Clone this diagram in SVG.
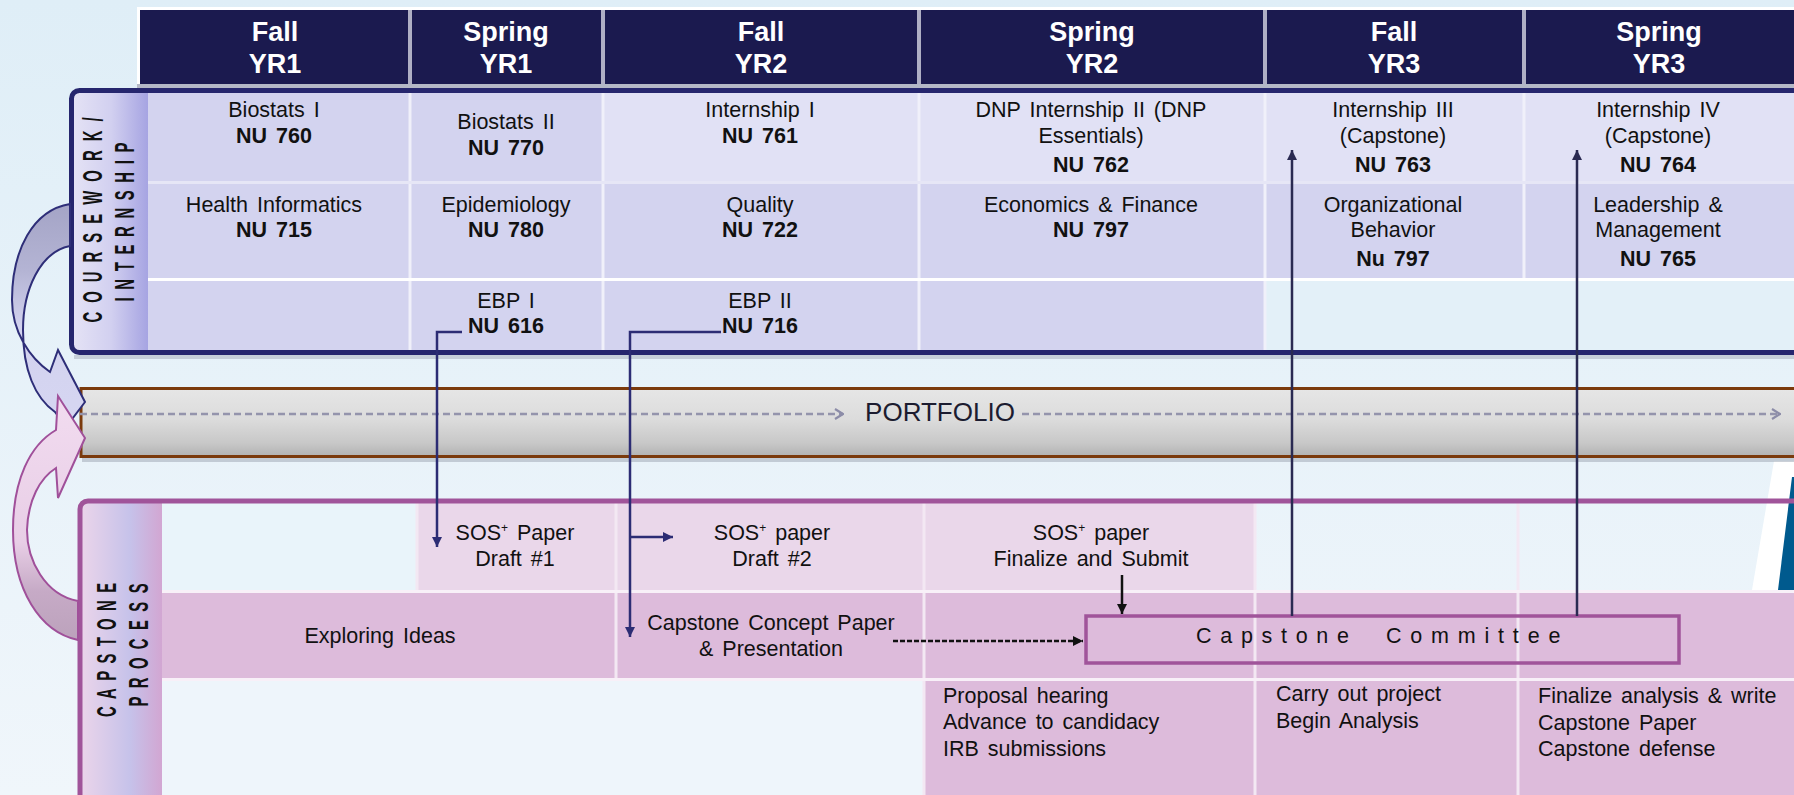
<svg xmlns="http://www.w3.org/2000/svg" width="1794" height="795" viewBox="0 0 1794 795">
<defs>
<linearGradient id="bg" x1="0" y1="0" x2="0" y2="1"><stop offset="0" stop-color="#DFEEF7"/><stop offset="1" stop-color="#F0F6FB"/></linearGradient>
<linearGradient id="cwLab" x1="0" y1="0" x2="1" y2="0"><stop offset="0" stop-color="#E4E2F5"/><stop offset="0.5" stop-color="#D2D0F0"/><stop offset="1" stop-color="#A6A4E2"/></linearGradient>
<linearGradient id="capLab" x1="0" y1="0" x2="1" y2="0"><stop offset="0" stop-color="#EAD4EA"/><stop offset="0.6" stop-color="#C6C2EA"/><stop offset="1" stop-color="#D2A6D2"/></linearGradient>
<linearGradient id="port" x1="0" y1="0" x2="0" y2="1"><stop offset="0" stop-color="#E6E6E6"/><stop offset="0.45" stop-color="#DCDCDC"/><stop offset="0.8" stop-color="#C8C8C8"/><stop offset="1" stop-color="#B2B2B2"/></linearGradient>
<linearGradient id="blueArr" x1="0" y1="0" x2="0" y2="1"><stop offset="0" stop-color="#A4A4C6"/><stop offset="0.3" stop-color="#B4B4D4"/><stop offset="0.55" stop-color="#D2D2EE"/><stop offset="1" stop-color="#D6D6F2"/></linearGradient>
<linearGradient id="pinkArr" x1="0" y1="0" x2="0" y2="1"><stop offset="0" stop-color="#F2DCF0"/><stop offset="0.6" stop-color="#E8CEE6"/><stop offset="0.8" stop-color="#C6AAC6"/><stop offset="1" stop-color="#BCA2BC"/></linearGradient>
<marker id="ahNavy" viewBox="0 0 10 10" refX="10" refY="5" markerWidth="11" markerHeight="10" markerUnits="userSpaceOnUse" orient="auto"><path d="M0,0 L10,5 L0,10 z" fill="#2C2C74"/></marker>
<marker id="ahDark" viewBox="0 0 10 10" refX="10" refY="5" markerWidth="11" markerHeight="10" markerUnits="userSpaceOnUse" orient="auto"><path d="M0,0 L10,5 L0,10 z" fill="#2A2A52"/></marker>
<marker id="ahBlack" viewBox="0 0 10 10" refX="10" refY="5" markerWidth="11" markerHeight="10" markerUnits="userSpaceOnUse" orient="auto"><path d="M0,0 L10,5 L0,10 z" fill="#111111"/></marker>
<marker id="chev" viewBox="0 0 10 12" refX="9" refY="6" markerWidth="10" markerHeight="12" markerUnits="userSpaceOnUse" orient="auto"><path d="M1,1 L9,6 L1,11" fill="none" stroke="#8C8CA8" stroke-width="2.2"/></marker>
</defs>
<style>
text{font-family:'Liberation Sans',Arial,sans-serif}
.hdr{font-size:27px;font-weight:bold;fill:#FFFFFF;text-anchor:middle}
.t{font-size:21.5px;fill:#111111;text-anchor:middle;word-spacing:3px}
.l{text-anchor:start}
.b{font-weight:bold}
.lab{font-size:27px;font-weight:bold;fill:#111111;text-anchor:middle}
.hc{fill:#1B1A4F}
.cw1{fill:#D3D3EF}
.cw2{fill:#E1E1F5}
.pk1{fill:#EAD7EA}
.pk2{fill:#DDBBDB}
.sup{font-size:12px}
.conn{fill:none;stroke:#2C2C74;stroke-width:2.5}
.vl{stroke:#F0F0FA;stroke-width:3}
.pl{stroke:#F3E8F3;stroke-width:3}
</style>

<rect x="0" y="0" width="1794" height="795" fill="url(#bg)"/>

<!-- right edge sliver -->
<g id="edge-sliver">
<polygon points="1752,590 1774,461 1794,461 1794,590" fill="#FFFFFF"/>
<polygon points="1778,590 1792,477 1794,477 1794,590" fill="#005A8E"/>
</g>

<!-- header -->
<g id="header">
<rect x="137" y="7" width="1660" height="79" fill="#FFFFFF"/>
<rect x="140" y="10" width="1660" height="74" fill="#AFAFC4"/>
<rect x="137" y="84" width="1660" height="4" fill="#B4B8C6"/>
<g id="hdr-fall-yr1"><rect class="hc" x="140" y="10" width="268" height="74"/><text class="hdr" x="275" y="41">Fall</text><text class="hdr" x="275" y="73">YR1</text></g>
<g id="hdr-spring-yr1"><rect class="hc" x="412" y="10" width="189" height="74"/><text class="hdr" x="506" y="41">Spring</text><text class="hdr" x="506" y="73">YR1</text></g>
<g id="hdr-fall-yr2"><rect class="hc" x="605" y="10" width="312" height="74"/><text class="hdr" x="761" y="41">Fall</text><text class="hdr" x="761" y="73">YR2</text></g>
<g id="hdr-spring-yr2"><rect class="hc" x="921" y="10" width="342" height="74"/><text class="hdr" x="1092" y="41">Spring</text><text class="hdr" x="1092" y="73">YR2</text></g>
<g id="hdr-fall-yr3"><rect class="hc" x="1267" y="10" width="255" height="74"/><text class="hdr" x="1394" y="41">Fall</text><text class="hdr" x="1394" y="73">YR3</text></g>
<g id="hdr-spring-yr3"><rect class="hc" x="1526" y="10" width="274" height="74"/><text class="hdr" x="1659" y="41">Spring</text><text class="hdr" x="1659" y="73">YR3</text></g>
</g>

<!-- coursework / internship -->
<g id="coursework">
<rect x="74" y="355" width="1730" height="4" fill="#B8C0CC" opacity="0.7"/>
<rect x="71.5" y="90.5" width="1740" height="262" rx="8" fill="#D3D3EF"/>
<rect x="74" y="93" width="74" height="257" fill="url(#cwLab)"/>
<text class="lab" transform="translate(92,220) rotate(-90) scale(0.55,1)" y="9.7" textLength="373" lengthAdjust="spacing">COURSEWORK/</text>
<text class="lab" transform="translate(124,222) rotate(-90) scale(0.55,1)" y="9.7" textLength="289" lengthAdjust="spacing">INTERNSHIP</text>
</g>
<g id="cw-biostats1"><rect class="cw1" x="148" y="92" width="262" height="90"/><text class="t" x="274" y="117">Biostats I</text><text class="t b" x="274" y="143">NU 760</text></g>
<g id="cw-biostats2"><rect class="cw1" x="410" y="92" width="193" height="90"/><text class="t" x="506" y="129">Biostats II</text><text class="t b" x="506" y="155">NU 770</text></g>
<g id="cw-intern1"><rect class="cw2" x="603" y="92" width="316" height="90"/><text class="t" x="760" y="117">Internship I</text><text class="t b" x="760" y="143">NU 761</text></g>
<g id="cw-intern2"><rect class="cw2" x="919" y="92" width="346" height="90"/><text class="t" x="1091" y="117">DNP Internship II (DNP</text><text class="t" x="1091" y="143">Essentials)</text><text class="t b" x="1091" y="172">NU 762</text></g>
<g id="cw-intern3"><rect class="cw2" x="1265" y="92" width="259" height="90"/><text class="t" x="1393" y="117">Internship III</text><text class="t" x="1393" y="143">(Capstone)</text><text class="t b" x="1393" y="172">NU 763</text></g>
<g id="cw-intern4"><rect class="cw2" x="1524" y="92" width="276" height="90"/><text class="t" x="1658" y="117">Internship IV</text><text class="t" x="1658" y="143">(Capstone)</text><text class="t b" x="1658" y="172">NU 764</text></g>
<g id="cw-informatics"><rect class="cw1" x="148" y="182" width="262" height="98"/><text class="t" x="274" y="212">Health Informatics</text><text class="t b" x="274" y="237">NU 715</text></g>
<g id="cw-epidemiology"><rect class="cw1" x="410" y="182" width="193" height="98"/><text class="t" x="506" y="212">Epidemiology</text><text class="t b" x="506" y="237">NU 780</text></g>
<g id="cw-quality"><rect class="cw1" x="603" y="182" width="316" height="98"/><text class="t" x="760" y="212">Quality</text><text class="t b" x="760" y="237">NU 722</text></g>
<g id="cw-economics"><rect class="cw1" x="919" y="182" width="346" height="98"/><text class="t" x="1091" y="212">Economics &amp; Finance</text><text class="t b" x="1091" y="237">NU 797</text></g>
<g id="cw-orgbehavior"><rect class="cw1" x="1265" y="182" width="259" height="98"/><text class="t" x="1393" y="212">Organizational</text><text class="t" x="1393" y="237">Behavior</text><text class="t b" x="1393" y="266">Nu 797</text></g>
<g id="cw-leadership"><rect class="cw1" x="1524" y="182" width="276" height="98"/><text class="t" x="1658" y="212">Leadership &amp;</text><text class="t" x="1658" y="237">Management</text><text class="t b" x="1658" y="266">NU 765</text></g>
<g id="cw-row3-empty"><rect class="cw1" x="148" y="280" width="262" height="70"/><rect class="cw1" x="919" y="280" width="346" height="70"/><rect x="1265" y="280" width="540" height="70" fill="#E3F0F8"/></g>
<g id="cw-ebp1"><rect class="cw1" x="410" y="280" width="193" height="70"/><text class="t" x="506" y="308">EBP I</text><text class="t b" x="506" y="333">NU 616</text></g>
<g id="cw-ebp2"><rect class="cw1" x="603" y="280" width="316" height="70"/><text class="t" x="760" y="308">EBP II</text><text class="t b" x="760" y="333">NU 716</text></g>
<g id="cw-grid">
<line class="vl" x1="410" y1="92" x2="410" y2="350"/><line class="vl" x1="603" y1="92" x2="603" y2="350"/><line class="vl" x1="919" y1="92" x2="919" y2="350"/><line class="vl" x1="1265" y1="92" x2="1265" y2="350"/><line class="vl" x1="1524" y1="92" x2="1524" y2="280"/>
<line x1="148" y1="182.5" x2="1800" y2="182.5" stroke="#E6E6F6" stroke-width="3"/>
<line x1="148" y1="279.5" x2="1800" y2="279.5" stroke="#FFFFFF" stroke-width="3"/>
<rect x="71.5" y="90.5" width="1740" height="262" rx="8" fill="none" stroke="#26266E" stroke-width="5"/>
</g>

<!-- portfolio -->
<g id="portfolio">
<rect x="82" y="458" width="1720" height="4" fill="#A8B0BC" opacity="0.6"/>
<rect x="80" y="388.5" width="1720" height="68" fill="url(#port)"/>
<line x1="80" y1="388.5" x2="1794" y2="388.5" stroke="#7B3A0C" stroke-width="3"/>
<line x1="80" y1="456.5" x2="1794" y2="456.5" stroke="#7B3A0C" stroke-width="3"/>
<line x1="81" y1="387" x2="81" y2="458" stroke="#7B3A0C" stroke-width="3"/>
<text x="940" y="421" font-size="26" fill="#1C1C30" text-anchor="middle">PORTFOLIO</text>
</g>

<!-- capstone process -->
<g id="capstone">
<rect x="162" y="503" width="256" height="88" fill="#E9F4FA"/>
<rect x="162" y="680" width="762" height="120" fill="#EEF5FB"/>
<rect x="82" y="503" width="80" height="300" fill="url(#capLab)"/>
<text class="lab" transform="translate(106,650) rotate(-90) scale(0.55,1)" y="9.7" textLength="244" lengthAdjust="spacing">CAPSTONE</text>
<text class="lab" transform="translate(138,645) rotate(-90) scale(0.55,1)" y="9.7" textLength="224" lengthAdjust="spacing">PROCESS</text>
</g>
<g id="cap-sos1"><rect class="pk1" x="417" y="503" width="199" height="88"/><text class="t" x="515" y="540">SOS<tspan class="sup" dy="-8">+</tspan><tspan dy="8"> Paper</tspan></text><text class="t" x="515" y="566">Draft #1</text></g>
<g id="cap-sos2"><rect class="pk1" x="616" y="503" width="308" height="88"/><text class="t" x="772" y="540">SOS<tspan class="sup" dy="-8">+</tspan><tspan dy="8"> paper</tspan></text><text class="t" x="772" y="566">Draft #2</text></g>
<g id="cap-sos3"><rect class="pk1" x="924" y="503" width="331" height="88"/><text class="t" x="1091" y="540">SOS<tspan class="sup" dy="-8">+</tspan><tspan dy="8"> paper</tspan></text><text class="t" x="1091" y="566">Finalize and Submit</text></g>
<g id="cap-exploring"><rect class="pk2" x="162" y="591" width="454" height="89"/><text class="t" x="380" y="643">Exploring Ideas</text></g>
<g id="cap-concept"><rect class="pk2" x="616" y="591" width="308" height="89"/><text class="t" x="771" y="630">Capstone Concept Paper</text><text class="t" x="771" y="656">&amp; Presentation</text></g>
<g id="cap-row2-rest"><rect class="pk2" x="924" y="591" width="880" height="89"/></g>
<g id="cap-proposal"><rect class="pk2" x="924" y="680" width="331" height="120"/><text class="t l" x="943" y="703">Proposal hearing</text><text class="t l" x="943" y="729">Advance to candidacy</text><text class="t l" x="943" y="756">IRB submissions</text></g>
<g id="cap-carryout"><rect class="pk2" x="1255" y="680" width="263" height="120"/><text class="t l" x="1276" y="701">Carry out project</text><text class="t l" x="1276" y="728">Begin Analysis</text></g>
<g id="cap-finalize"><rect class="pk2" x="1518" y="680" width="286" height="120"/><text class="t l" x="1538" y="703">Finalize analysis &amp; write</text><text class="t l" x="1538" y="730">Capstone Paper</text><text class="t l" x="1538" y="756">Capstone defense</text></g>
<g id="cap-grid">
<line class="pl" x1="417" y1="503" x2="417" y2="591"/><line class="pl" x1="616" y1="503" x2="616" y2="680"/><line class="pl" x1="924" y1="503" x2="924" y2="795"/><line class="pl" x1="1255" y1="503" x2="1255" y2="795"/><line class="pl" x1="1518" y1="503" x2="1518" y2="795"/>
<line x1="162" y1="591.5" x2="1800" y2="591.5" stroke="#F8F0F8" stroke-width="3"/>
<line x1="162" y1="679.5" x2="1800" y2="679.5" stroke="#F8F0F8" stroke-width="3"/>
<rect x="80" y="501" width="1740" height="320" rx="8" fill="none" stroke="#A0549A" stroke-width="5"/>
</g>
<g id="cap-committee">
<rect x="1086" y="616" width="593" height="47" fill="none" stroke="#A0549A" stroke-width="3.5"/>
<text class="t l" x="1196" y="643" letter-spacing="8.7" word-spacing="0">Capstone</text>
<text class="t l" x="1386" y="643" letter-spacing="8.8" word-spacing="0">Committee</text>
</g>

<!-- curved arrows -->
<g id="arrow-coursework">
<path d="M70,204 C33,210 12,250 12,300 C12,332 30,358 50,372 L58,350 L85,402 L66,427 L55,412 C35,398 23,370 23,330 C23,290 40,252 70,246 Z" fill="url(#blueArr)" stroke="#2E2E78" stroke-width="2"/>
</g>
<g id="arrow-capstone">
<path d="M78,640 C40,632 13,590 13,530 C13,480 30,445 56,430 L58,396 L85,438 L58,498 L56,468 C40,478 28,500 27,530 C27,560 45,595 78,601 Z" fill="url(#pinkArr)" stroke="#A0509A" stroke-width="2"/>
</g>

<!-- connectors -->
<g id="connectors">
<line x1="80" y1="414" x2="843" y2="414" stroke="#9494AC" stroke-width="2.5" stroke-dasharray="7,4" marker-end="url(#chev)"/>
<line x1="1022" y1="414" x2="1780" y2="414" stroke="#9494AC" stroke-width="2.5" stroke-dasharray="7,4" marker-end="url(#chev)"/>
<polyline class="conn" points="462,332 437,332 437,547" marker-end="url(#ahNavy)"/>
<polyline class="conn" points="721,332 630,332 630,637" marker-end="url(#ahNavy)"/>
<line class="conn" x1="630" y1="537" x2="673" y2="537" marker-end="url(#ahNavy)"/>
<line x1="1292" y1="616" x2="1292" y2="150" stroke="#2A2A52" stroke-width="2.5" marker-end="url(#ahDark)"/>
<line x1="1577" y1="616" x2="1577" y2="150" stroke="#2A2A52" stroke-width="2.5" marker-end="url(#ahDark)"/>
<line x1="1122" y1="575" x2="1122" y2="614" stroke="#111111" stroke-width="2.5" marker-end="url(#ahBlack)"/>
<line x1="893" y1="641" x2="1083" y2="641" stroke="#111111" stroke-width="2.5" stroke-dasharray="5,2" marker-end="url(#ahBlack)"/>
</g>
</svg>
